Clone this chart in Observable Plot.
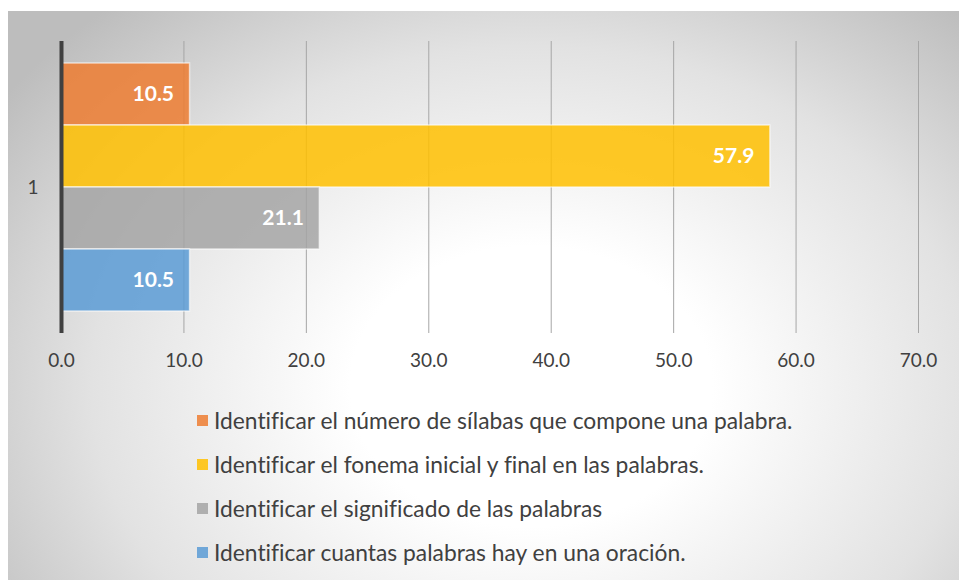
<!DOCTYPE html>
<html><head><meta charset="utf-8">
<script src="https://cdn.jsdelivr.net/npm/d3@7"></script>
<script src="https://cdn.jsdelivr.net/npm/@observablehq/plot@0.6"></script>
<style>
body{margin:0;background:#fff;font-family:Lato,"Open Sans",sans-serif;font-variant-ligatures:none;}
#frame{position:absolute;left:8px;top:11px;width:951px;height:569px;
 background:radial-gradient(ellipse 68% 88% at 55% 66%, #ffffff 28%, #e2e2e2 68%, #bdbdbd 100%);}
#legend{position:absolute;left:189px;top:387px;}
.row{display:flex;align-items:center;height:44px;font-size:22.8px;color:#404040;}
.sw{width:11px;height:11px;margin-right:6px;}
</style></head><body>
<div id="frame"><div id="chart"></div><div id="legend"></div></div>
<script>
const category = ["1"];
const series = [
  "Identificar el número de sílabas que compone una palabra.",
  "Identificar el fonema inicial y final en las palabras.",
  "Identificar el significado de las palabras",
  "Identificar cuantas palabras hay en una oración."
];
const values = [10.5, 57.9, 21.1, 10.5];
const colors = ["#ED7D31", "#FFC000", "#A5A5A5", "#5B9BD5"];
const xTicks = [0, 10, 20, 30, 40, 50, 60, 70];

const data = series.map((s, i) => ({cat: category[0], s, v: values[i]}));

const chart = Plot.plot({
  width: 951, height: 380,
  marginLeft: 53, marginRight: 41, marginTop: 30, marginBottom: 58,
  style: {background: "transparent", fontFamily: "Lato, 'Open Sans', sans-serif", fontSize: "19px", color: "#404040"},
  x: {domain: [0, 70], ticks: xTicks, tickFormat: d3.format(".1f"), tickSize: 0, tickPadding: 20, label: null},
  fy: {domain: category, axis: "left", label: null, tickSize: 0, tickPadding: 23, padding: 0},
  y: {domain: series, axis: null, paddingInner: 0, paddingOuter: 0.32},
  color: {domain: series, range: colors},
  marks: [
    Plot.gridX(xTicks, {stroke: "#a6a6a6", strokeOpacity: 1, strokeWidth: 1}),
    Plot.barX(data, {fy: "cat", y: "s", x: "v", fill: "s", fillOpacity: 0.85, stroke: "#ffffff", strokeOpacity: 0.6, strokeWidth: 1.5}),
    Plot.text(data, {fy: "cat", y: "s", x: "v", text: d => d3.format(".1f")(d.v), textAnchor: "end", dx: -16, fill: "white", fontWeight: "bold", fontSize: 21}),
    Plot.ruleX([0], {stroke: "#404040", strokeWidth: 4})
  ]
});
document.getElementById("chart").appendChild(chart);

const leg = d3.select("#legend");
series.forEach((s, i) => {
  const r = leg.append("div").attr("class", "row");
  r.append("div").attr("class", "sw").style("background", colors[i]).style("opacity", 0.85);
  r.append("span").text(s);
});
</script></body></html>
